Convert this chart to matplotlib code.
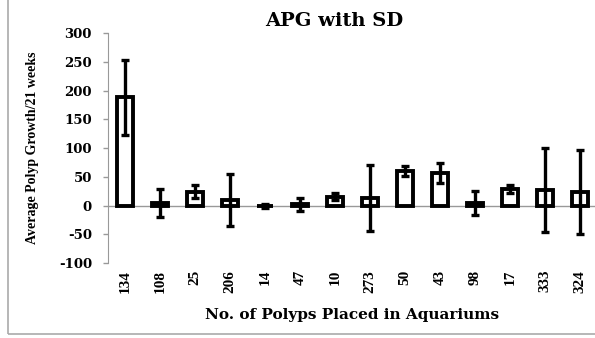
import matplotlib
matplotlib.use("Agg")
import matplotlib.pyplot as plt
from matplotlib.patches import Rectangle
import numpy as np

categories = ["134", "108", "25", "206", "14", "47", "10", "273", "50", "43", "98", "17", "333", "324"]
means = [188, 4, 24, 10, -1, 2, 15, 13, 60, 57, 5, 28, 27, 24]
sds = [66, 24, 11, 45, 3, 11, 6, 58, 9, 17, 21, 7, 73, 73]

plt.rcParams['font.family'] = ['Liberation Serif', 'DejaVu Serif']
plt.rcParams['font.weight'] = 'bold'
wide = ['DejaVu Serif']

fig = plt.figure(figsize=(5.95, 3.38), dpi=100)
ax = fig.add_axes([0.1815, 0.222, 0.822, 0.680])

x = np.arange(len(categories))
ax.bar(x, means, width=0.46, color='white', edgecolor='black', linewidth=2.8, zorder=3)
ax.errorbar(x, means, yerr=sds, fmt='none', ecolor='black', elinewidth=2.4,
            capsize=3, capthick=2.4, zorder=4)
ax.axhline(0, color='#999999', linewidth=1.0, zorder=2)

ax.set_xlim(-0.5, len(categories) - 0.5)
ax.set_ylim(-100, 300)
yt = list(range(-100, 301, 50))
ax.set_yticks(yt)
ax.set_yticklabels([str(v) for v in yt], fontsize=9.5, fontweight='bold', family=wide)
ax.set_xticks(x)
ax.set_xticklabels(categories, rotation=90, fontsize=11, fontweight='bold')
ax.tick_params(axis='x', length=0, pad=5)
ax.tick_params(axis='y', length=3.6, color='#999999', width=1, pad=8)

for s in ['top', 'right', 'bottom']:
    ax.spines[s].set_visible(False)
ax.spines['left'].set_color('#999999')

ax.set_title("APG with SD", fontsize=14, fontweight='bold', pad=5, family=wide, x=0.462)
ax.set_ylabel("Average Polyp Growth/21 weeks", fontsize=10, fontweight='bold', labelpad=14)
ax.set_xlabel("No. of Polyps Placed in Aquariums", fontsize=11, fontweight='bold',
              labelpad=11, family=wide)

fig.patches.append(Rectangle((8/595, 4/338), 1.0, 1.2, transform=fig.transFigure,
                             fill=False, edgecolor='#aaaaaa', linewidth=1.2))

fig.savefig("out.png", dpi=100)
